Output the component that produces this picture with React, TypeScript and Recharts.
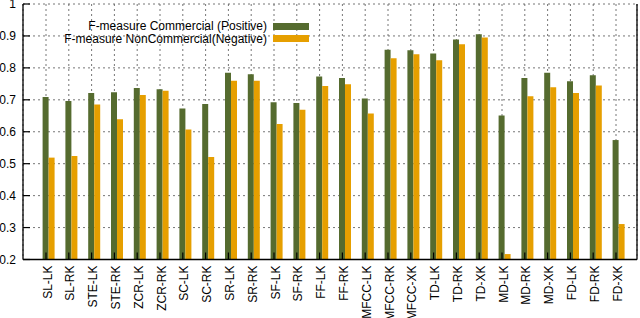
import React from 'react'
import { BarChart, Bar, XAxis, YAxis, CartesianGrid, Legend } from 'recharts'

const categories = [
  'SL-LK', 'SL-RK', 'STE-LK', 'STE-RK', 'ZCR-LK', 'ZCR-RK', 'SC-LK', 'SC-RK',
  'SR-LK', 'SR-RK', 'SF-LK', 'SF-RK', 'FF-LK', 'FF-RK', 'MFCC-LK', 'MFCC-RK',
  'MFCC-XK', 'TD-LK', 'TD-RK', 'TD-XK', 'MD-LK', 'MD-RK', 'MD-XK', 'FD-LK',
  'FD-RK', 'FD-XK',
]
const commercial = [
  0.709, 0.696, 0.721, 0.724, 0.737, 0.733, 0.673, 0.687, 0.785, 0.780, 0.692, 0.690, 0.773,
  0.768, 0.704, 0.857, 0.855, 0.845, 0.889, 0.905, 0.651, 0.768, 0.785, 0.758, 0.777, 0.574,
]
const nonCommercial = [
  0.519, 0.524, 0.685, 0.639, 0.715, 0.728, 0.607, 0.521, 0.760, 0.760, 0.624, 0.669, 0.743,
  0.749, 0.657, 0.830, 0.843, 0.824, 0.874, 0.895, 0.217, 0.711, 0.739, 0.721, 0.745, 0.311,
]
const yTicks = [0.2, 0.3, 0.4, 0.5, 0.6, 0.7, 0.8, 0.9, 1]

const GREEN = '#556b2f'
const ORANGE = '#e69f00'
const FONT = '"Liberation Sans", Arial, Helvetica, sans-serif'

const data = categories.map((name, i) => ({
  name,
  pos: commercial[i],
  neg: nonCommercial[i],
}))

const LeftTick = (props: any) => {
  const { x, y, payload } = props
  const v = Number(payload.value)
  return (
    <g>
      <line x1={x} y1={y} x2={x + 7} y2={y} stroke="#000" strokeWidth={1.2} />
      <text x={x - 7} y={y + 4.3} textAnchor="end" fontSize={12} fontFamily={FONT} fill="#000">
        {String(+v.toFixed(1))}
      </text>
    </g>
  )
}

const RightTick = (props: any) => {
  const { x, y } = props
  return <line x1={x} y1={y} x2={x - 7} y2={y} stroke="#000" strokeWidth={1.2} />
}

const TopTick = (props: any) => {
  const { x, y } = props
  return <line x1={x} y1={y} x2={x} y2={y + 7} stroke="#000" strokeWidth={1.2} />
}

const BottomTick = (props: any) => {
  const { x, y, payload } = props
  return (
    <g>
      <line x1={x} y1={y} x2={x} y2={y - 7} stroke="#000" strokeWidth={1.2} />
      <text
        transform={`translate(${x + 5.5},${y + 6}) rotate(-90)`}
        textAnchor="end"
        fontSize={12}
        fontFamily={FONT}
        fill="#000"
      >
        {payload.value}
      </text>
    </g>
  )
}

const renderLegend = (props: any) => {
  const items = props.payload || []
  return (
    <div style={{ position: 'relative', width: 640, height: 30 }}>
      {items.map((it: any, i: number) => (
        <div key={i}>
          <span
            style={{
              position: 'absolute',
              right: 640 - 267,
              top: i * 12.5,
              fontSize: 12,
              fontFamily: FONT,
              lineHeight: '14px',
              whiteSpace: 'nowrap',
              color: '#000',
            }}
          >
            {it.value}
          </span>
          <span
            style={{
              position: 'absolute',
              left: 273,
              top: i * 12.5 + 3.5,
              width: 36,
              height: 7,
              background: it.color,
            }}
          />
        </div>
      ))}
    </div>
  )
}

export default function App() {
  return (
    <div style={{ position: 'absolute', left: 0, top: 0, width: 640, height: 318, background: '#fff' }}>
      <BarChart width={640} height={318} data={data} margin={{ top: 4, right: 0, left: 0, bottom: 0 }}>
        <XAxis
          dataKey="name"
          height={58.5}
          padding={{ left: 11.6, right: 9.6 }}
          interval={0}
          tickSize={0}
          tickMargin={0}
          tick={<BottomTick />}
          axisLine={{ stroke: '#000', strokeWidth: 1.3 }}
          tickLine={false}
        />
        <XAxis
          xAxisId="t"
          orientation="top"
          dataKey="name"
          height={0}
          padding={{ left: 11.6, right: 9.6 }}
          interval={0}
          tickSize={0}
          tickMargin={0}
          tick={<TopTick />}
          axisLine={{ stroke: '#000', strokeWidth: 1.3 }}
          tickLine={false}
        />
        <XAxis xAxisId="b" dataKey="name" hide padding={{ left: 17.6, right: 3.6 }} />
        <YAxis
          type="number"
          domain={[0.2, 1]}
          ticks={yTicks}
          width={23}
          interval={0}
          tickSize={0}
          tickMargin={0}
          tick={<LeftTick />}
          axisLine={{ stroke: '#000', strokeWidth: 1.3 }}
          tickLine={false}
        />
        <YAxis
          yAxisId="r"
          orientation="right"
          type="number"
          domain={[0.2, 1]}
          ticks={yTicks}
          width={3}
          interval={0}
          tickSize={0}
          tickMargin={0}
          tick={<RightTick />}
          axisLine={{ stroke: '#000', strokeWidth: 1.3 }}
          tickLine={false}
        />
        <Legend
          layout="horizontal"
          verticalAlign="middle"
          align="center"
          wrapperStyle={{ top: 19, left: 0, width: 640 }}
          content={renderLegend}
        />
        <Bar dataKey="pos" name="F-measure Commercial (Positive)" fill={GREEN} barSize={6} isAnimationActive={false} />
        <Bar
          dataKey="neg"
          xAxisId="b"
          name="F-measure NonCommercial(Negative)"
          fill={ORANGE}
          barSize={6}
          isAnimationActive={false}
        />
        <CartesianGrid stroke="#666" strokeDasharray="2 3" strokeWidth={0.9} />
      </BarChart>
    </div>
  )
}
